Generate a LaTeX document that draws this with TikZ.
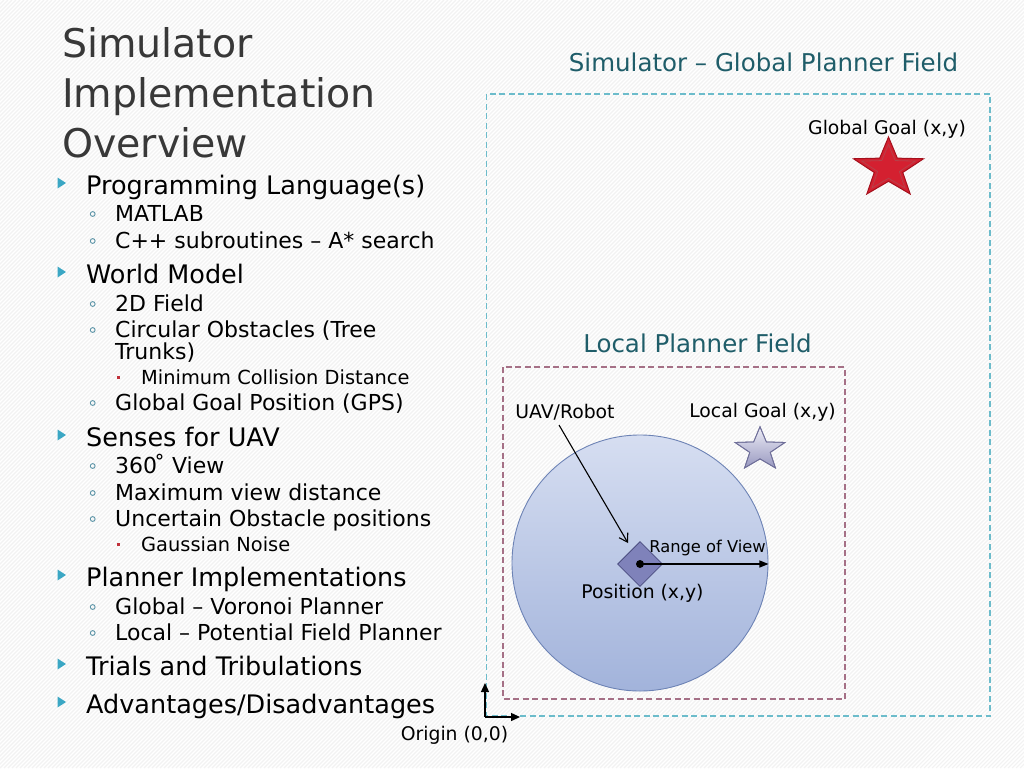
\documentclass[tikz,border=0pt]{standalone}
\usepackage{fontspec}
\setmainfont{DejaVu Sans}
\usetikzlibrary{arrows.meta,shapes.geometric}
\definecolor{titlegray}{HTML}{383838}
\definecolor{headteal}{HTML}{1F5D69}
\definecolor{bulteal}{HTML}{3BA7C4}
\definecolor{subbul}{HTML}{5A93A6}
\definecolor{redbul}{HTML}{C0303A}
\definecolor{globaldash}{HTML}{6CBCCB}
\definecolor{localdash}{HTML}{A57086}
\definecolor{circborder}{HTML}{6D83B5}
\definecolor{circtop}{HTML}{D6DEF1}
\definecolor{circbot}{HTML}{A2B3DB}
\definecolor{diafill}{HTML}{7F82BA}
\definecolor{diaborder}{HTML}{4B4D80}
\definecolor{starred}{HTML}{D42030}
\definecolor{starredd}{HTML}{A5101C}
\definecolor{lstartop}{HTML}{EDEDF6}
\definecolor{lstarbot}{HTML}{9898C0}
\definecolor{lstarborder}{HTML}{70709A}
\tikzset{
  titletext/.style={anchor=base west, inner sep=0, text=titlegray, font=\fontsize{39.5}{46}\selectfont},
  lone/.style={anchor=base west, inner sep=0, font=\fontsize{25.5}{30}\selectfont},
  ltwo/.style={anchor=base west, inner sep=0, font=\fontsize{22}{26}\selectfont},
  lthree/.style={anchor=base west, inner sep=0, font=\fontsize{19.4}{23}\selectfont},
  heading/.style={anchor=base, inner sep=0, text=headteal, font=\fontsize{24.5}{29}\selectfont},
  lbl/.style={anchor=base, inner sep=0, font=\fontsize{18.8}{22}\selectfont},
  bulone/.style={fill=bulteal, draw=none},
  bultwo/.style={draw=subbul, line width=0.9},
  bulthree/.style={fill=redbul, draw=none},
  fielddash/.style={dash pattern=on 6 off 3.5, line width=1.1},
  axisarrow/.style={line width=1.4, -{Triangle[length=9,width=8]}},
}
\begin{document}
\begin{tikzpicture}[x=1pt,y=-1pt]
\useasboundingbox (0,0) rectangle (1024,768);
% background hatching
\fill[white] (0,0) rectangle (1024,768);
\begin{scope}
\clip (0,0) rectangle (1024,768);
\foreach \i in {-768,-764,...,1024} {
  \draw[black!5, line width=1.1] (\i,768) -- ({\i+768},0);
}
\end{scope}

% title
\node[titletext] (t1) at (62,57) {Simulator};
\node[titletext] (t2) at (62,107) {Implementation};
\node[titletext] (t3) at (62,157) {Overview};

% level 1 items
\foreach \b in {194,283,446,586,675,713} {
  \fill[bulone] (57.5,\b-16.5) -- (57.5,\b-5.5) -- (66,\b-11) -- cycle;
}
\node[lone] (a1) at (86,194) {Programming Language(s)};
\node[lone] (a2) at (86,283) {World Model};
\node[lone] (a3) at (86,446) {Senses for UAV};
\node[lone] (a4) at (86,586) {Planner Implementations};
\node[lone] (a5) at (86,675) {Trials and Tribulations};
\node[lone] (a6) at (86,713) {Advantages/Disadvantages};

% level 2 items
\foreach \b in {221,248,311,337,410,473,500,526,614,640} {
  \draw[bultwo] (92.7,\b-7) circle (2.4);
}
\node[ltwo] (b1) at (115,221) {MATLAB};
\node[ltwo] (b2) at (115,248) {C++ subroutines – A* search};
\node[ltwo] (b3) at (115,311) {2D Field};
\node[ltwo] (b4) at (115,337) {Circular Obstacles (Tree};
\node[ltwo] (b4b) at (115,359) {Trunks)};
\node[ltwo] (b5) at (115,410) {Global Goal Position (GPS)};
\node[ltwo] (b6) at (115,473) {360\kern-3pt˚ View};
\node[ltwo] (b7) at (115,500) {Maximum view distance};
\node[ltwo] (b8) at (115,526) {Uncertain Obstacle positions};
\node[ltwo] (b9) at (115,614) {Global – Voronoi Planner};
\node[ltwo] (b10) at (115,640) {Local – Potential Field Planner};

% level 3 items
\foreach \b in {384,551} {
  \fill[bulthree] (116.8,\b-7.8) rectangle (120,\b-4.6);
}
\node[lthree] (c1) at (141,384) {Minimum Collision Distance};
\node[lthree] (c2) at (141,551) {Gaussian Noise};

% global field
\node[heading] (gh) at (763.5,71) {Simulator – Global Planner Field};
\draw[globaldash, fielddash] (486.5,94) rectangle (990,716);
\node[lbl] (gg) at (887,134) {Global Goal (x,y)};
\begin{scope}[shift={(888.5,168.5)}, xscale=1.17]
  \filldraw[fill=starred, draw=starredd, line width=1]
    (-90:31.5) -- (-54:12.8) -- (-18:31.5) -- (18:12.8) -- (54:31.5) -- (90:12.8)
    -- (126:31.5) -- (162:12.8) -- (198:31.5) -- (234:12.8) -- cycle;
  \draw[starredd!80, line width=0.8]
    (-90:24) -- (-54:9.8) -- (-18:24) -- (18:9.8) -- (54:24) -- (90:9.8)
    -- (126:24) -- (162:9.8) -- (198:24) -- (234:9.8) -- cycle;
\end{scope}

% local field
\node[heading] (lh) at (697.5,352) {Local Planner Field};
\draw[localdash, fielddash] (503,367) rectangle (845,699);
\node[lbl] (uavlbl) at (565,418) {UAV/Robot};
\node[lbl] (lg) at (762.5,417) {Local Goal (x,y)};
\begin{scope}[shift={(760,449.5)}, xscale=1.15]
  \shade[top color=lstartop, bottom color=lstarbot, draw=lstarborder, line width=0.8]
    (-90:22.8) -- (-54:9.4) -- (-18:22.8) -- (18:9.4) -- (54:22.8) -- (90:9.4)
    -- (126:22.8) -- (162:9.4) -- (198:22.8) -- (234:9.4) -- cycle;
  \draw[lstarborder, line width=0.8]
    (-90:22.8) -- (-54:9.4) -- (-18:22.8) -- (18:9.4) -- (54:22.8) -- (90:9.4)
    -- (126:22.8) -- (162:9.4) -- (198:22.8) -- (234:9.4) -- cycle;
\end{scope}

% range of view circle and robot
\node[circle, minimum size=256, inner sep=0, draw=circborder, line width=0.9,
      top color=circtop, bottom color=circbot] (view) at (640,563) {};
\node[diamond, minimum size=45, inner sep=0, fill=diafill, draw=diaborder, line width=0.8] (robot) at (640,564) {};
\node[circle, fill=black, minimum size=8, inner sep=0] (pos) at (640,564) {};
\draw[line width=1.2, -{Triangle[length=9,width=7]}] (pos.center) -- (view.east |- pos.center);
\node[anchor=base, inner sep=0, font=\fontsize{16.3}{19}\selectfont] (rov) at (707.5,552) {Range of View};
\node[lbl] (poslbl) at (642.5,598) {Position (x,y)};
\coordinate (uavfrom) at (559,425);
\coordinate (uavto) at (628,543);
\draw[line width=1.1, -{Straight Barb[length=8,width=10]}] (uavfrom) -- (uavto);

% origin
\coordinate (origin) at (485,717);
\coordinate (yaxis) at (485,683);
\coordinate (xaxis) at (520,717);
\draw[axisarrow] (origin) -- (yaxis);
\draw[axisarrow] (origin) -- (xaxis);
\node[lbl] (orig) at (454.5,740) {Origin (0,0)};
\end{tikzpicture}
\end{document}
